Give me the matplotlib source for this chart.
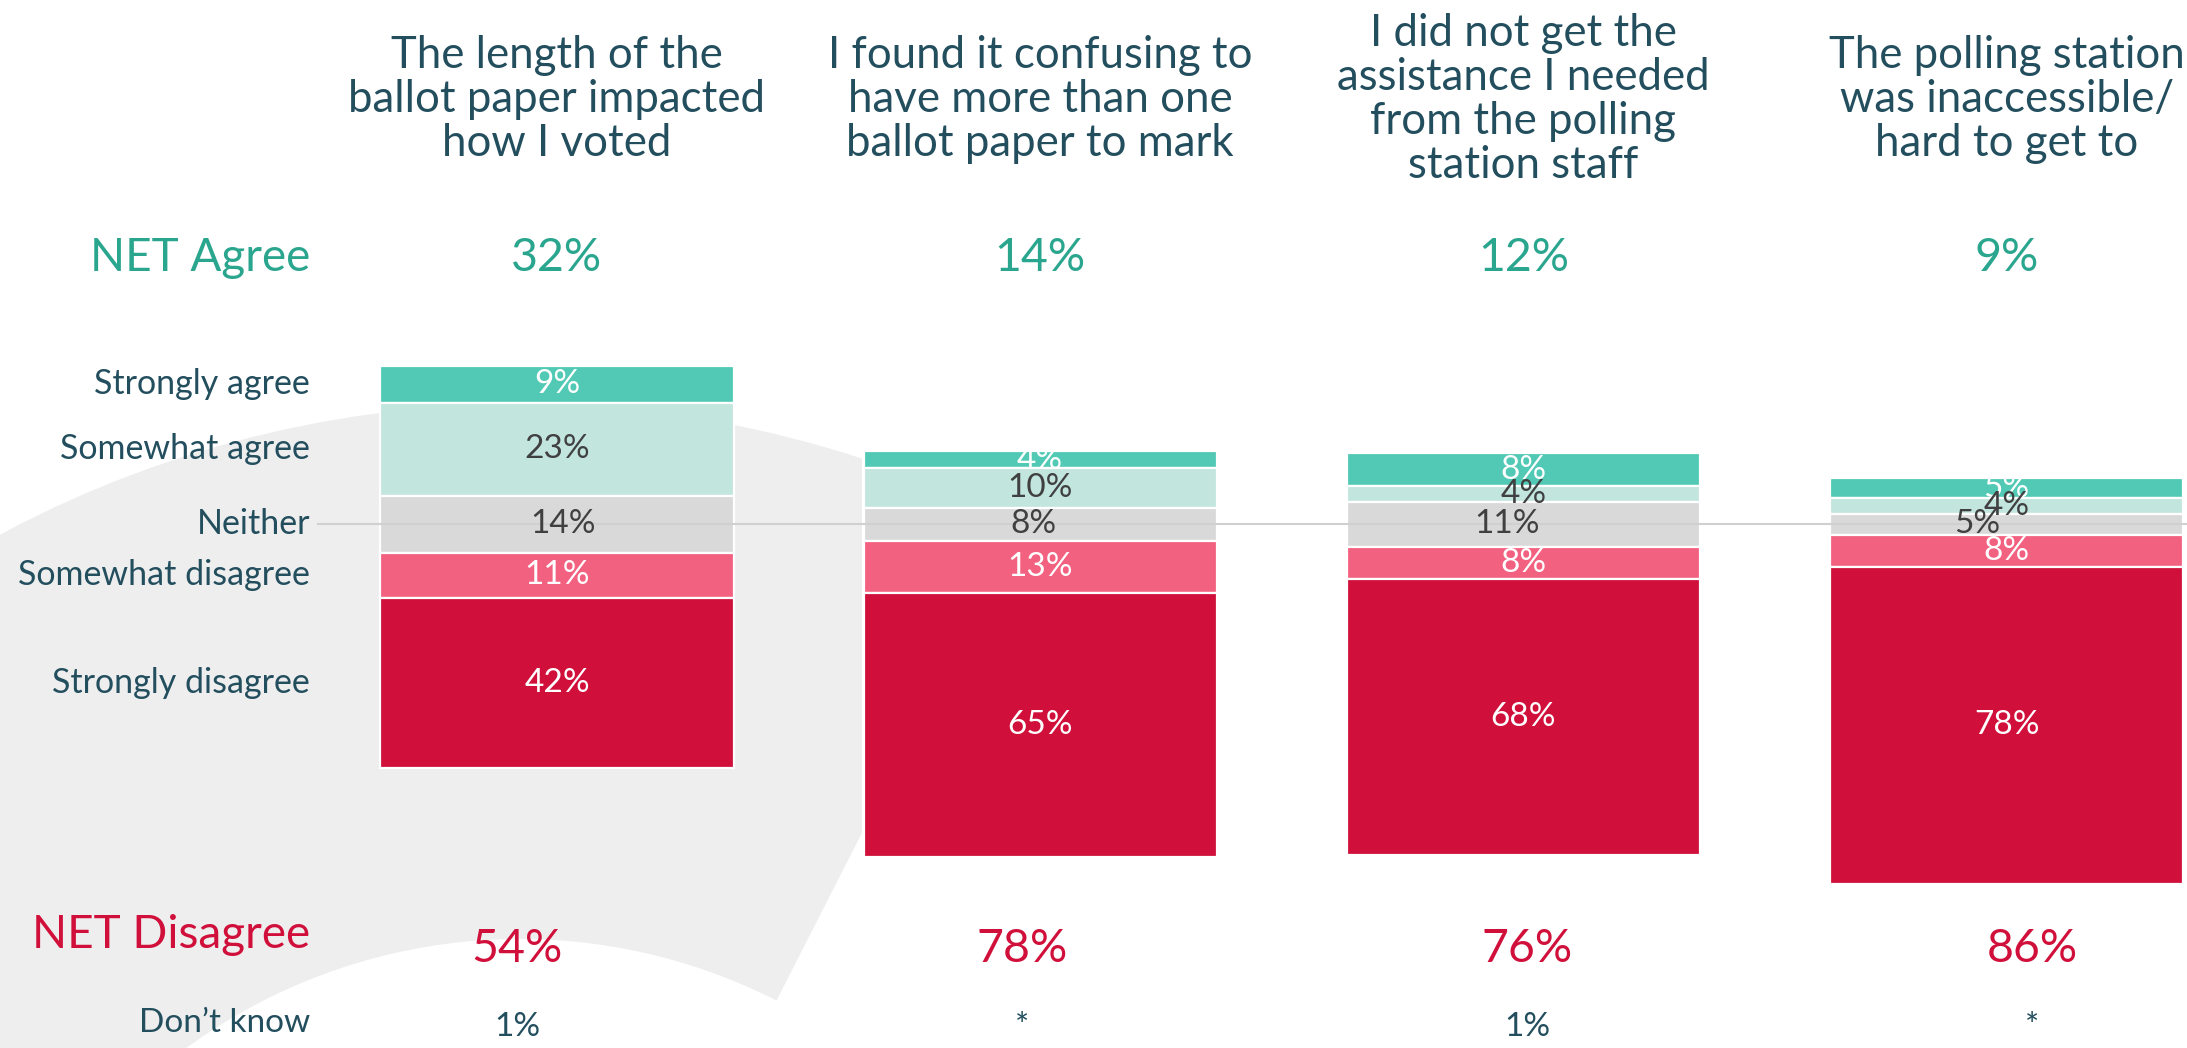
import numpy as np
import matplotlib.pyplot as plt
from matplotlib.patches import Wedge, Rectangle

plt.rcParams['font.family'] = ['Lato', 'DejaVu Sans']

# data
questions = [
    "The length of the\nballot paper impacted\nhow I voted",
    "I found it confusing to\nhave more than one\nballot paper to mark",
    "I did not get the\nassistance I needed\nfrom the polling\nstation staff",
    "The polling station\nwas inaccessible/\nhard to get to",
]
levels = ["Strongly agree", "Somewhat agree", "Neither",
          "Somewhat disagree", "Strongly disagree"]
strongly_agree = [9, 4, 8, 5]
somewhat_agree = [23, 10, 4, 4]
neither = [14, 8, 11, 5]
somewhat_disagree = [11, 13, 8, 8]
strongly_disagree = [42, 65, 68, 78]
net_agree = [32, 14, 12, 9]
net_disagree = [54, 78, 76, 86]
dont_know = ["1%", "*", "1%", "*"]

# colours
TEXT = "#234e5e"
GREEN = "#2aa58e"
RED = "#d0103a"
seg_colors = ["#52c9b5", "#c2e5de", "#d9d9d9", "#f36180", "#d0103a"]
seg_text = ["white", "#404040", "#404040", "white", "white"]

W, H = 2187, 1048
fig = plt.figure(figsize=(W / 100, H / 100), dpi=100)

# background swoosh (pixel space)
bg = fig.add_axes([0, 0, 1, 1])
bg.set_xlim(0, W)
bg.set_ylim(0, H)
bg.axis("off")
ring = Wedge((520, H - 1504), 1100, 63, 180, width=535,
             facecolor="#eeeeee", edgecolor="none")
bg.add_patch(ring)
ring.set_clip_path(Rectangle((0, 0), 862, H, transform=bg.transData))

# main chart: x in question index, y in percent around middle of "Neither"
ax = fig.add_axes([0, 0, 1, 1])
ax.patch.set_alpha(0)
ax.set_xlim(-1.1527, 3.3733)
ax.set_ylim(-128.97, 129.2)
ax.axis("off")

x = np.arange(len(questions))
segs = np.array([strongly_agree, somewhat_agree, neither,
                 somewhat_disagree, strongly_disagree], dtype=float)
# top of each bar: half of neither + agree parts
tops = segs[2] / 2 + segs[1] + segs[0]
bw = 0.731
neither_nudge = [0.012, -0.015, -0.033, -0.06]

cur = tops.copy()
for k in range(5):
    bottoms = cur - segs[k]
    ax.bar(x, segs[k], bottom=bottoms, width=bw, color=seg_colors[k],
           edgecolor="white", linewidth=1.6, zorder=2)
    for i in range(len(x)):
        dx = neither_nudge[i] if k == 2 else 0
        ax.text(x[i] + dx, bottoms[i] + segs[k][i] / 2, f"{int(segs[k][i])}%",
                ha="center", va="center", fontsize=24, color=seg_text[k],
                zorder=4)
    # row labels follow the first bar
    ax.text(-0.511, bottoms[0] + segs[k][0] / 2, levels[k], ha="right",
            va="center", fontsize=24.5, color=TEXT)
    cur = bottoms

# centre line
ax.plot([-0.494, 3.3733], [0, 0], color="#d0d0d0", lw=1.5, zorder=3)

# column titles
for i, q in enumerate(questions):
    ax.text(x[i], 104.6, q, ha="center", va="center", fontsize=31.5,
            color=TEXT, linespacing=1.09)

# NET rows
ax.text(-0.511, 65.6, "NET Agree", ha="right", va="center", fontsize=33,
        color=GREEN)
for i in range(len(x)):
    ax.text(x[i], 65.6, f"{net_agree[i]}%", ha="center", va="center",
            fontsize=33.5, color=GREEN)

low_x = -0.082 + 1.045 * x
ax.text(-0.511, -101.1, "NET Disagree", ha="right", va="center", fontsize=33,
        color=RED)
for i in range(len(x)):
    ax.text(low_x[i], -104.5, f"{net_disagree[i]}%", ha="center",
            va="center", fontsize=33.5, color=RED)

ax.text(-0.511, -125.1, "Don\u2019t know", ha="right", va="baseline",
        fontsize=24, color=TEXT)
for i in range(len(x)):
    ax.text(low_x[i], -126.1, dont_know[i], ha="center", va="baseline",
            fontsize=24, color=TEXT)

fig.savefig("out.png", dpi=100)
